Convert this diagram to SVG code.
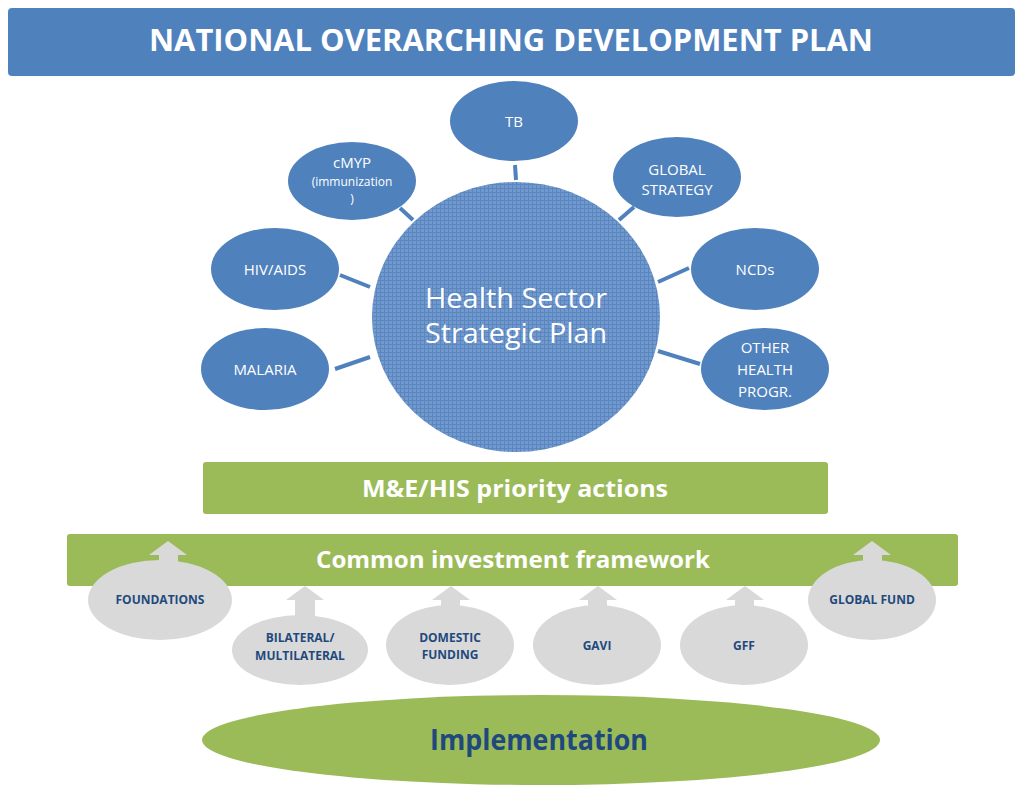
<svg xmlns="http://www.w3.org/2000/svg" width="1017" height="787" viewBox="0 0 1017 787">
<defs>
<pattern id="grid" width="4" height="4" patternUnits="userSpaceOnUse">
<rect width="4" height="4" fill="#7199CD"/>
<path d="M0 0.5H4M0.5 0V4" stroke="#5A86C0" stroke-width="1"/>
</pattern>
<style>
.blue{fill:#4F81BD}
.wt{fill:#FFFFFF;font-family:"Open Sans","Liberation Sans",sans-serif;text-anchor:middle}
.gr{fill:#9BBB59}
.gy{fill:#D9D9D9}
.dk{fill:#1F497D;font-family:"Open Sans","Liberation Sans",sans-serif;font-weight:bold;text-anchor:middle}
.con{stroke:#4F81BD;stroke-width:4;fill:none}
</style>
</defs>
<rect width="1017" height="787" fill="#FFFFFF"/>

<g id="title">
<rect x="8" y="8" width="1007" height="68" rx="4" class="blue"/>
<text x="511" y="51" class="wt" font-size="31" font-weight="bold" textLength="724" lengthAdjust="spacingAndGlyphs">NATIONAL OVERARCHING DEVELOPMENT PLAN</text>
</g>

<g id="connectors">
<line x1="515" y1="165" x2="516" y2="180" class="con"/>
<line x1="400" y1="208" x2="413" y2="220" class="con"/>
<line x1="634" y1="207" x2="619" y2="220" class="con"/>
<line x1="340" y1="275" x2="370" y2="287" class="con"/>
<line x1="335" y1="369" x2="370" y2="357" class="con"/>
<line x1="689" y1="268" x2="658" y2="282" class="con"/>
<line x1="658" y1="351" x2="700" y2="364" class="con"/>
</g>

<g id="hssp">
<ellipse cx="516" cy="317" rx="144" ry="135" fill="url(#grid)"/>
<text x="516" y="308" class="wt" font-size="27" textLength="182" lengthAdjust="spacingAndGlyphs">Health Sector</text>
<text x="516" y="343" class="wt" font-size="27" textLength="182" lengthAdjust="spacingAndGlyphs">Strategic Plan</text>
</g>

<g id="tb">
<ellipse cx="514" cy="121" rx="64" ry="40" class="blue"/>
<text x="514" y="127" class="wt" font-size="15">TB</text>
</g>

<g id="cmyp">
<ellipse cx="352" cy="181" rx="64" ry="39" class="blue"/>
<text x="352" y="168" class="wt" font-size="15">cMYP</text>
<text x="352" y="186" class="wt" font-size="12">(immunization</text>
<text x="352" y="203" class="wt" font-size="12">)</text>
</g>

<g id="global-strategy">
<ellipse cx="677" cy="177" rx="64" ry="40" class="blue"/>
<text x="677" y="175" class="wt" font-size="15">GLOBAL</text>
<text x="677" y="195" class="wt" font-size="15">STRATEGY</text>
</g>

<g id="hiv">
<ellipse cx="275" cy="269" rx="64" ry="41" class="blue"/>
<text x="275" y="275" class="wt" font-size="15">HIV/AIDS</text>
</g>

<g id="malaria">
<ellipse cx="265" cy="369" rx="64" ry="41" class="blue"/>
<text x="265" y="375" class="wt" font-size="15">MALARIA</text>
</g>

<g id="ncds">
<ellipse cx="755" cy="269" rx="64" ry="41" class="blue"/>
<text x="755" y="275" class="wt" font-size="15">NCDs</text>
</g>

<g id="other">
<ellipse cx="765" cy="369" rx="64" ry="41" class="blue"/>
<text x="765" y="353" class="wt" font-size="15">OTHER</text>
<text x="765" y="375" class="wt" font-size="15">HEALTH</text>
<text x="765" y="397" class="wt" font-size="15">PROGR.</text>
</g>

<g id="me-his">
<rect x="203" y="462" width="625" height="52" rx="3" class="gr"/>
<text x="515" y="497" class="wt" font-size="24" font-weight="bold" textLength="306" lengthAdjust="spacingAndGlyphs">M&amp;E/HIS priority actions</text>
</g>

<g id="cif">
<rect x="67" y="534" width="891" height="52" rx="3" class="gr"/>
<text x="513" y="568" class="wt" font-size="24" font-weight="bold" textLength="394" lengthAdjust="spacingAndGlyphs">Common investment framework</text>
</g>

<g id="foundations">
<path d="M168 541L187 555H178V575H159V555H149Z" class="gy"/>
<ellipse cx="160" cy="600" rx="72" ry="40" class="gy"/>
<text x="160" y="604" class="dk" font-size="12">FOUNDATIONS</text>
</g>

<g id="bilateral">
<path d="M305 586L324 600H315V625H295V600H286Z" class="gy"/>
<ellipse cx="300" cy="650" rx="68" ry="35" class="gy"/>
<text x="300" y="642" class="dk" font-size="12">BILATERAL/</text>
<text x="300" y="660" class="dk" font-size="12">MULTILATERAL</text>
</g>

<g id="domestic">
<path d="M451 586L470 600H460V615H441V600H432Z" class="gy"/>
<ellipse cx="450" cy="645" rx="64" ry="40" class="gy"/>
<text x="450" y="642" class="dk" font-size="12">DOMESTIC</text>
<text x="450" y="659" class="dk" font-size="12">FUNDING</text>
</g>

<g id="gavi">
<path d="M598 586L617 600H607V615H588V600H579Z" class="gy"/>
<ellipse cx="597" cy="645" rx="64" ry="40" class="gy"/>
<text x="597" y="650" class="dk" font-size="12">GAVI</text>
</g>

<g id="gff">
<path d="M745 586L764 600H754V615H735V600H726Z" class="gy"/>
<ellipse cx="744" cy="645" rx="64" ry="40" class="gy"/>
<text x="744" y="650" class="dk" font-size="12">GFF</text>
</g>

<g id="global-fund">
<path d="M872 541L891 555H882V570H863V555H853Z" class="gy"/>
<ellipse cx="872" cy="600" rx="64" ry="40" class="gy"/>
<text x="872" y="604" class="dk" font-size="12">GLOBAL FUND</text>
</g>

<g id="implementation">
<ellipse cx="541" cy="740" rx="339" ry="45" class="gr"/>
<text x="539" y="750" class="dk" font-size="28" textLength="218" lengthAdjust="spacingAndGlyphs">Implementation</text>
</g>
</svg>
